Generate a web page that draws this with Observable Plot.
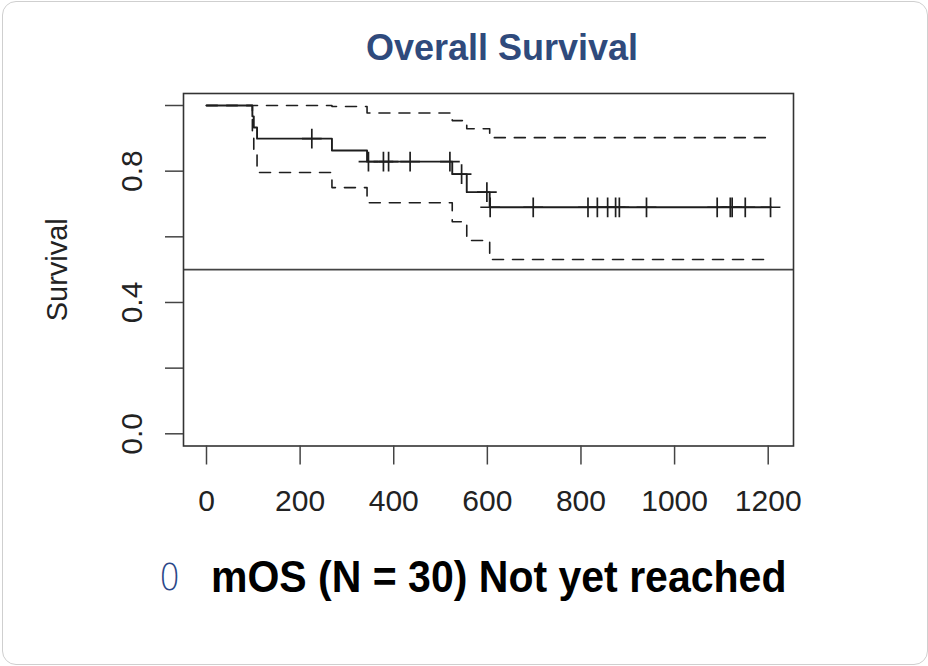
<!DOCTYPE html>
<html>
<head>
<meta charset="utf-8">
<script src="https://cdn.jsdelivr.net/npm/d3@7"></script>
<script src="https://cdn.jsdelivr.net/npm/@observablehq/plot@0.6"></script>
<style>
html, body { margin: 0; padding: 0; background: #fff; }
#card { position: relative; width: 928px; height: 666px; overflow: hidden; font-family: "Liberation Sans", Arial, sans-serif; background: #fff; }
#border { position: absolute; left: 2px; top: 1px; width: 926px; height: 664px; border: 1.5px solid #cfcfcf; border-radius: 14px; box-sizing: border-box; }
#title { position: absolute; left: 302px; width: 400px; top: 29.5px; text-align: center; font-size: 36px; line-height: 36px; font-weight: bold; color: #2f4a7c; white-space: nowrap; }
#chart { position: absolute; left: 0; top: 70px; }
#bullet { position: absolute; left: 159px; top: 558px; font-family: "DejaVu Sans", sans-serif; font-weight: 200; font-size: 38px; line-height: 38px; color: #2a4788; transform: scaleX(0.88); transform-origin: left center; }
#caption { position: absolute; left: 211px; top: 554.7px; font-size: 44px; line-height: 44px; font-weight: bold; color: #000; white-space: nowrap; transform: scaleX(0.932); transform-origin: left center; }
</style>
</head>
<body>
<div id="card">
  <div id="border"></div>
  <div id="title"></div>
  <div id="chart"></div>
  <div id="bullet"></div>
  <div id="caption"></div>
</div>
<script>
// ---- Data ----
const titleText = "Overall Survival";
const captionText = "mOS (N = 30) Not yet reached";
const bulletText = "0";
const yTitle = "Survival";

// Kaplan-Meier estimate (step function)
const kmTime = [0, 98, 101, 108, 268, 343, 525, 556, 605, 1206];
const kmSurv = [1, 0.967, 0.933, 0.899, 0.863, 0.829, 0.791, 0.736, 0.69, 0.69];

// Upper 95% confidence limit
const upTime = [0, 268, 343, 525, 556, 605, 1206];
const upSurv = [1, 0.997, 0.977, 0.954, 0.929, 0.902, 0.902];

// Lower 95% confidence limit
const loTime = [0, 98, 101, 108, 268, 343, 525, 556, 605, 1206];
const loSurv = [1, 0.905, 0.85, 0.796, 0.75, 0.704, 0.646, 0.589, 0.531, 0.531];

// Censored observations
const censorTime = [225, 346, 378, 389, 435, 520, 545, 599, 606, 698, 815, 835, 857, 874, 882, 940, 1091, 1119, 1123, 1151, 1205];
const censorSurv = [0.899, 0.829, 0.829, 0.829, 0.829, 0.829, 0.791, 0.736, 0.69, 0.69, 0.69, 0.69, 0.69, 0.69, 0.69, 0.69, 0.69, 0.69, 0.69, 0.69, 0.69];

// Reference line and axis ticks
const refLine = [0.5];
const xTicks = [0, 200, 400, 600, 800, 1000, 1200];
const yTicks = [0, 0.2, 0.4, 0.6, 0.8, 1.0];
const yLabelled = [0, 0.4, 0.8];

// ---- Build tables ----
const km = kmTime.map((t, i) => ({t, s: kmSurv[i]}));
const upper = upTime.map((t, i) => ({t, s: upSurv[i]}));
const lower = loTime.map((t, i) => ({t, s: loSurv[i]}));
const censor = censorTime.map((t, i) => ({t, s: censorSurv[i]}));

document.getElementById("title").textContent = titleText;
document.getElementById("caption").textContent = captionText;
document.getElementById("bullet").textContent = bulletText;

const ink = "#1e1e1e";

const chart = Plot.plot({
  width: 928,
  height: 470,
  marginLeft: 183,
  marginRight: 135,
  marginTop: 23,
  marginBottom: 94.5,
  x: {domain: [0, 1200], range: [206, 767.7]},
  y: {domain: [0, 1], range: [363.3, 35]},
  style: {fontFamily: "'Liberation Sans', Arial, sans-serif", color: "#222", background: "transparent", overflow: "visible"},
  marks: [
    Plot.ruleY(refLine, {stroke: "#444", strokeWidth: 1.6}),
    Plot.line(upper, {x: "t", y: "s", curve: "step-after", stroke: ink, strokeWidth: 1.6, strokeDasharray: "11,9"}),
    Plot.line(lower, {x: "t", y: "s", curve: "step-after", stroke: ink, strokeWidth: 1.6, strokeDasharray: "11,9"}),
    Plot.line(km, {x: "t", y: "s", curve: "step-after", stroke: ink, strokeWidth: 1.9}),
    Plot.dot(censor, {x: "t", y: "s", symbol: "plus", r: 6.4, stroke: ink, strokeWidth: 1.7}),
    Plot.frame({stroke: "#333", strokeWidth: 1.6}),
    Plot.axisX({ticks: xTicks, label: null, tickSize: 19, tickPadding: 25, fontSize: 30, strokeWidth: 1.5, stroke: "#444", fill: "#222", tickFormat: d => String(d)}),
    Plot.axisY({ticks: yTicks, label: null, tickSize: 18, tickPadding: 23.6, tickRotate: -90, fontSize: 30, strokeWidth: 1.5, stroke: "#444", fill: "#222",
      tickFormat: d => yLabelled.some(v => Math.abs(v - d) < 1e-9) ? d.toFixed(1) : ""}),
    Plot.text([yTitle], {text: d => d, frameAnchor: "left", textAnchor: "middle", lineAnchor: "middle", dx: -126, rotate: -90, fontSize: 29, fill: "#222"})
  ]
});
document.getElementById("chart").appendChild(chart);
</script>
</body>
</html>
